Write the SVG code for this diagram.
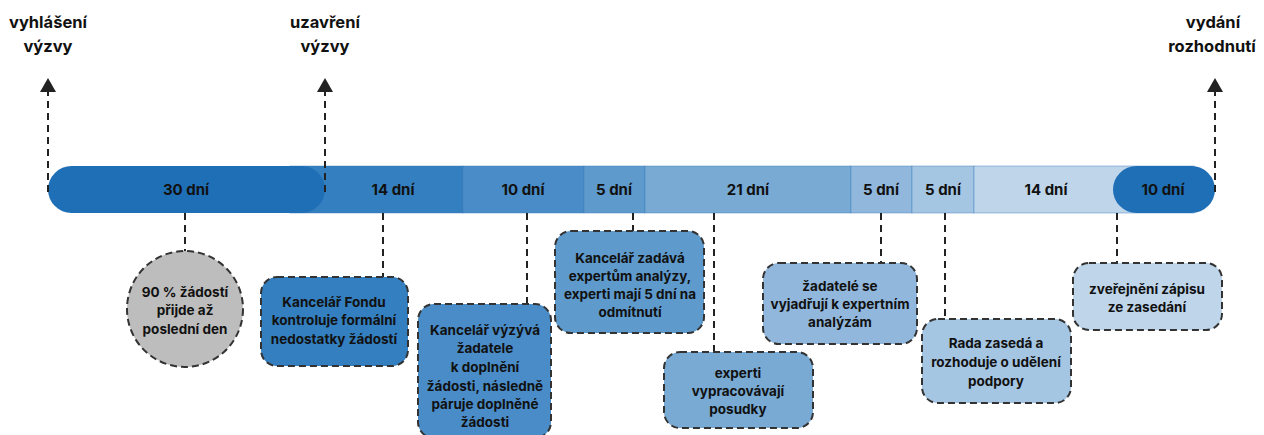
<svg xmlns="http://www.w3.org/2000/svg" width="1264" height="435" viewBox="0 0 1264 435">
<defs>
<style>
text{font-family:Inter,"Open Sans","DejaVu Sans",sans-serif;font-weight:700;fill:#111;text-anchor:middle}
.t{font-size:16.5px}
.b{font-size:15px}
.n{font-size:13.5px}
.seg{stroke:#3a7fbd;stroke-opacity:0.45;stroke-width:1}
.box{stroke:#333;stroke-width:2;stroke-dasharray:7 4}
.con{stroke:#222;stroke-width:2;stroke-dasharray:7 5;fill:none}
</style>
<marker id="ah" viewBox="0 0 14 16" refX="0" refY="8" markerWidth="14" markerHeight="16" markerUnits="userSpaceOnUse" orient="auto">
<path d="M0,0 L14,8 L0,16 Z" fill="#222"/>
</marker>
</defs>

<g id="timeline">
<rect class="seg" x="290" y="166" width="173" height="47" fill="#347fbf"/>
<rect class="seg" x="463" y="166" width="121" height="47" fill="#4a8cc7"/>
<rect class="seg" x="584" y="166" width="61" height="47" fill="#5e9acc"/>
<rect class="seg" x="645" y="166" width="206" height="47" fill="#78aad4"/>
<rect class="seg" x="851" y="166" width="61" height="47" fill="#91b8dc"/>
<rect class="seg" x="912" y="166" width="62" height="47" fill="#a5c6e3"/>
<rect class="seg" x="974" y="166" width="220" height="47" fill="#bed5ea"/>
<rect x="48" y="166" width="277" height="47" rx="23.5" fill="#1f6fb7"/>
<rect x="1113" y="166" width="102" height="47" rx="23.5" fill="#1f6fb7"/>
<text class="b" x="186" y="195">30 dní</text>
<text class="b" x="393" y="195">14 dní</text>
<text class="b" x="523" y="195">10 dní</text>
<text class="b" x="614" y="195">5 dní</text>
<text class="b" x="748" y="195">21 dní</text>
<text class="b" x="881" y="195">5 dní</text>
<text class="b" x="943" y="195">5 dní</text>
<text class="b" x="1046" y="195">14 dní</text>
<text class="b" x="1163" y="195">10 dní</text>
</g>

<g id="connectors">
<line class="con" x1="48" y1="192" x2="48" y2="92" marker-end="url(#ah)"/>
<line class="con" x1="325" y1="192" x2="325" y2="92" marker-end="url(#ah)"/>
<line class="con" x1="1215" y1="192" x2="1215" y2="92" marker-end="url(#ah)"/>
<line class="con" x1="185" y1="213" x2="185" y2="251"/>
<line class="con" x1="383" y1="213" x2="383" y2="277"/>
<line class="con" x1="527" y1="213" x2="527" y2="304"/>
<line class="con" x1="633" y1="213" x2="633" y2="231"/>
<line class="con" x1="714" y1="213" x2="714" y2="352"/>
<line class="con" x1="881" y1="213" x2="881" y2="263"/>
<line class="con" x1="945" y1="213" x2="945" y2="319"/>
<line class="con" x1="1117" y1="213" x2="1117" y2="263"/>
</g>

<g id="milestone-start">
<text class="t" x="48" y="28">vyhlášení</text>
<text class="t" x="48" y="52">výzvy</text>
</g>
<g id="milestone-close">
<text class="t" x="325" y="28">uzavření</text>
<text class="t" x="325" y="52">výzvy</text>
</g>
<g id="milestone-decision">
<text class="t" x="1213" y="28">vydání</text>
<text class="t" x="1212" y="52">rozhodnutí</text>
</g>

<g id="node-90">
<circle class="box" cx="185" cy="309" r="58" fill="#bdbdbd"/>
<text class="n" x="185" y="297">90 % žádostí</text>
<text class="n" x="185" y="315">přijde až</text>
<text class="n" x="185" y="334">poslední den</text>
</g>

<g id="node-fond">
<rect class="box" x="261" y="277" width="147" height="89" rx="16" fill="#347fbf"/>
<text class="n" x="334" y="307">Kancelář Fondu</text>
<text class="n" x="334" y="325">kontroluje formální</text>
<text class="n" x="334" y="344">nedostatky žádostí</text>
</g>

<g id="node-vyzyva">
<rect class="box" x="418" y="304" width="133" height="134" rx="16" fill="#4a8cc7"/>
<text class="n" x="485" y="335">Kancelář výzývá</text>
<text class="n" x="485" y="353">žadatele</text>
<text class="n" x="485" y="372">k doplnění</text>
<text class="n" x="485" y="391">žádosti, následně</text>
<text class="n" x="485" y="409">páruje doplněné</text>
<text class="n" x="485" y="427">žádosti</text>
</g>

<g id="node-zadava">
<rect class="box" x="555" y="231" width="149" height="102" rx="16" fill="#5e9acc"/>
<text class="n" x="630" y="263">Kancelář zadává</text>
<text class="n" x="630" y="281">expertům analýzy,</text>
<text class="n" x="630" y="299">experti mají 5 dní na</text>
<text class="n" x="630" y="317">odmítnutí</text>
</g>

<g id="node-posudky">
<rect class="box" x="664" y="352" width="149" height="76" rx="16" fill="#78aad4"/>
<text class="n" x="738" y="378">experti</text>
<text class="n" x="738" y="396">vypracovávají</text>
<text class="n" x="738" y="414">posudky</text>
</g>

<g id="node-zadatele">
<rect class="box" x="763" y="263" width="154" height="81" rx="16" fill="#91b8dc"/>
<text class="n" x="840" y="291">žadatelé se</text>
<text class="n" x="840" y="309">vyjadřují k expertním</text>
<text class="n" x="840" y="327">analýzám</text>
</g>

<g id="node-rada">
<rect class="box" x="922" y="319" width="149" height="84" rx="16" fill="#a5c6e3"/>
<text class="n" x="996" y="348">Rada zasedá a</text>
<text class="n" x="996" y="367">rozhoduje o udělení</text>
<text class="n" x="996" y="386">podpory</text>
</g>

<g id="node-zapis">
<rect class="box" x="1073" y="263" width="149" height="67" rx="16" fill="#bed5ea"/>
<text class="n" x="1147" y="294">zveřejnění zápisu</text>
<text class="n" x="1147" y="312">ze zasedání</text>
</g>
</svg>
